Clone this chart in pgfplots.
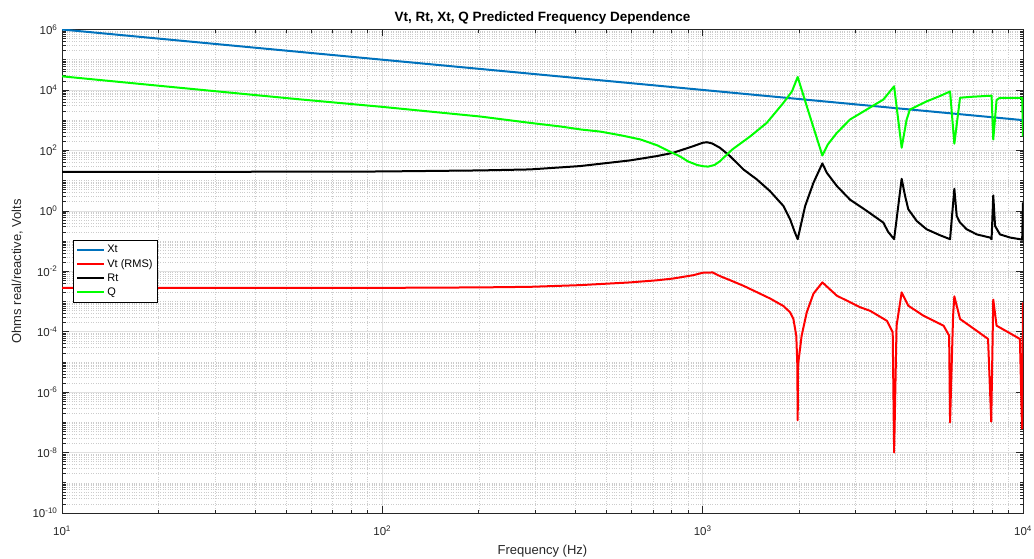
\documentclass[border=0pt]{standalone}
\usepackage{pgfplots}
\pgfplotsset{compat=1.18}
\usepackage{fontspec}
\setmainfont{Liberation Sans}
\definecolor{mblue}{rgb}{0,0.447,0.741}
\definecolor{axgray}{rgb}{0.15,0.15,0.15}
\definecolor{majg}{rgb}{0.88,0.88,0.88}
\definecolor{ming}{rgb}{0.80,0.80,0.80}
\def\yminorlist{}
\foreach \e in {-10,...,5}{%
  \foreach \m in {2,...,9}{%
    \xdef\yminorlist{\yminorlist\m e\e,}%
  }%
}
\xdef\yminorlist{\yminorlist 1e-9,1e-7,1e-5,1e-3,1e-1,1e1,1e3,1e5}
\begin{document}
\begin{tikzpicture}
\begin{axis}[
  at={(62pt,46pt)}, anchor=south west,
  scale only axis, width=961pt, height=483.5pt,
  xmode=log, ymode=log,
  xmin=10, xmax=10000, ymin=1e-10, ymax=1e6,
  xtick={10,100,1000,10000},
  xticklabels={10\textsuperscript{1},10\textsuperscript{2},10\textsuperscript{3},10\textsuperscript{4}},
  ytick={1e-10,1e-8,1e-6,1e-4,1e-2,1,1e2,1e4,1e6},
  yticklabels={10\textsuperscript{-10},10\textsuperscript{-8},10\textsuperscript{-6},10\textsuperscript{-4},10\textsuperscript{-2},10\textsuperscript{0},10\textsuperscript{2},10\textsuperscript{4},10\textsuperscript{6}},
  minor xtick={20,30,40,50,60,70,80,90,200,300,400,500,600,700,800,900,2000,3000,4000,5000,6000,7000,8000,9000},
  minor ytick/.expanded=\yminorlist,
  grid=both,
  major grid style={majg, line width=0.5pt},
  minor grid style={ming, dotted, line width=0.5pt},
  axis line style={axgray, line width=0.6pt},
  tick style={axgray, line width=0.6pt},
  tick align=inside,
  major tick length=7pt, minor tick length=3.5pt,
  ticklabel style={font=\fontsize{11.5}{13}\selectfont, text=axgray},
  xticklabel style={yshift=-9pt},
  yticklabel style={xshift=-1pt},
  title={Vt, Rt, Xt, Q Predicted Frequency Dependence},
  title style={font=\bfseries\fontsize{13.5}{15}\selectfont, text=black, yshift=-4pt},
  xlabel={Frequency (Hz)},
  ylabel={Ohms real/reactive, Volts},
  label style={font=\fontsize{13}{15}\selectfont, text=axgray},
  xlabel style={yshift=-3pt},
  ylabel style={yshift=3pt},
  legend style={at={(0.0115,0.565)}, anchor=north west, draw=black, line width=0.5pt,
    font=\fontsize{11}{13}\selectfont, inner sep=3pt, row sep=1pt, text=black},
  legend cell align=left,
  legend image code/.code={\draw[#1, line width=2pt] (0pt,0pt) -- (27pt,0pt);},
  every axis plot/.append style={line width=2pt, line join=round},
]
% Xt
\addplot[mblue] coordinates {(10,1e6) (100,1e5) (1000,1e4) (10000,1e3)};
\addlegendentry{Xt}
% Vt (RMS)
\addplot[red] coordinates {
(10,2.82e-3) (100,2.82e-3) (202,2.92e-3) (289,3.05e-3) (414,3.47e-3) (593,4.27e-3)
(719,5.01e-3) (809,5.75e-3) (935,7.41e-3) (1000,8.91e-3) (1074,9.12e-3) (1132,6.92e-3)
(1217,5.07e-3) (1340,3.31e-3) (1475,2.04e-3) (1622,1.26e-3) (1787,7.08e-4) (1875,4.37e-4)
(1920,2.63e-4) (1960,7.41e-5) (1975,7.94e-6) (1980,1.17e-7) (1985,7.94e-6) (2037,7.41e-5)
(2113,4.37e-4) (2218,1.82e-3) (2364,4.27e-3) (2624,1.55e-3) (3100,6.46e-4) (3333,4.90e-4)
(3760,2.29e-4) (3920,9.55e-5) (3960,1.0e-8) (4030,1.58e-4) (4180,2.0e-3) (4385,7.24e-4)
(4887,3.39e-4) (5650,1.58e-4) (5880,7.41e-5) (5920,1.0e-7) (6050,3.39e-4) (6105,1.48e-3)
(6360,2.63e-4) (7170,1.07e-4) (7780,5.75e-5) (7960,1.05e-7) (8075,1.15e-3) (8270,1.58e-4)
(9380,7.41e-5) (9780,5.75e-5) (9930,6.17e-8) (10000,9.33e-4)
};
\addlegendentry{Vt (RMS)}
% Rt
\addplot[black] coordinates {
(10,19.5) (30,19.5) (98,20) (202,21.7) (289,23.4) (414,30.2) (593,46.5) (719,64.6)
(809,83.2) (935,138) (1000,178) (1030,186) (1070,170) (1132,122) (1217,64.6) (1340,23.4)
(1475,11.0) (1622,4.50) (1787,1.445) (1875,0.525) (1941,0.191) (1980,0.115) (2089,1.445)
(2218,8.51) (2364,37.0) (2440,18.2) (2624,6.61) (2884,2.34) (3250,1.0) (3664,0.407)
(3795,0.20) (3960,0.115) (4180,11.5) (4285,3.09) (4385,1.12) (4660,0.460) (5000,0.245)
(5510,0.155) (5920,0.115) (6105,5.37) (6210,0.676) (6360,0.407) (6670,0.245) (7170,0.166)
(7890,0.130) (7980,0.115) (8075,3.24) (8180,0.316) (8470,0.166) (9120,0.130) (9780,0.115)
(9940,0.110) (10000,1.9)
};
\addlegendentry{Rt}
% Q
\addplot[green] coordinates {
(10,2.82e4) (20,1.38e4) (55,4.90e3) (100,2.75e3) (202,1.32e3) (289,813) (360,617)
(417,490) (480,417) (560,310) (640,229) (720,148) (790,91) (850,63) (900,43) (960,33)
(1000,30) (1040,29) (1090,33) (1132,43.7)
(1237,107) (1406,288) (1585,813) (1786,3.72e3) (1900,8.91e3) (1980,2.69e4) (2163,1.32e3)
(2364,67.6) (2460,158) (2624,380) (2884,1.05e3) (3250,2.24e3) (3664,4.79e3) (3960,1.32e4)
(4180,122) (4330,1.02e3) (4435,2.24e3) (5000,4.17e3) (5510,6.31e3) (5920,8.91e3)
(6105,166) (6360,5.50e3) (6840,5.89e3) (7980,6.46e3) (8075,229) (8270,4.68e3)
(8470,5.50e3) (9780,5.50e3) (9940,5.50e3) (10000,288)
};
\addlegendentry{Q}
\end{axis}
\pgfresetboundingbox
\path[use as bounding box] (0,0) rectangle (1034pt,559pt);
\end{tikzpicture}
\end{document}
